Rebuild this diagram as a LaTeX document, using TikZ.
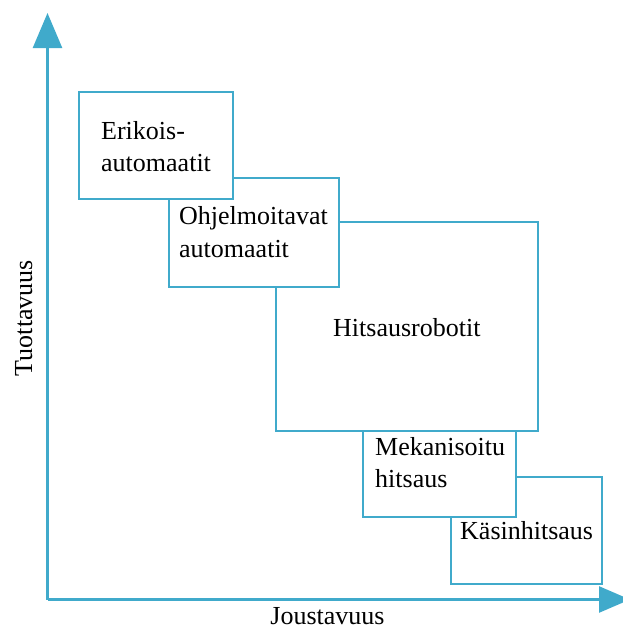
\documentclass[tikz,border=0pt]{standalone}
\usepackage{fontspec}
\setmainfont{Liberation Serif}
\usetikzlibrary{arrows.meta}
\definecolor{lineblue}{RGB}{64,170,203}
\tikzset{
  box/.style={draw=lineblue, line width=2.5pt, fill=white, rectangle, inner sep=0pt, outer sep=0pt, anchor=north west},
  lbl/.style={anchor=base west, inner sep=0pt, font=\fontsize{26}{31}\selectfont},
  axlbl/.style={inner sep=0pt, font=\fontsize{26}{31}\selectfont},
  axis/.style={draw=lineblue, line width=2.5pt}
}
\begin{document}
\begin{tikzpicture}[x=1pt,y=-1pt]
\useasboundingbox (0,0) rectangle (623,629);
% axes
\coordinate (o) at (47.5,599.5);
\coordinate (ytip) at (47.5,13);
\coordinate (xtip) at (630,599.5);
\draw[axis, -{Triangle[length=35pt,width=29pt]}, fill=lineblue] (o) -- (ytip);
\draw[axis, -{Triangle[length=31pt,width=26pt]}, fill=lineblue] (o) -- (xtip);
% boxes (drawn back to front)
\node[box, minimum width=151pt, minimum height=107pt] (b5) at (451,477) {};
\node[box, minimum width=153pt, minimum height=92pt] (b4) at (363,425) {};
\node[box, minimum width=262pt, minimum height=209pt] (b3) at (276,222) {};
\node[box, minimum width=170pt, minimum height=109pt] (b2) at (169,178) {};
\node[box, minimum width=154pt, minimum height=107pt] (b1) at (79,92) {};
% labels
\node[lbl] (t1a) at (101,139) {Erikois-};
\node[lbl] (t1b) at (101,171) {automaatit};
\node[lbl] (t2a) at (179,224) {Ohjelmoitavat};
\node[lbl] (t2b) at (179,257) {automaatit};
\node[lbl] (t3) at (333,336) {Hitsausrobotit};
\node[lbl] (t4a) at (375,455) {Mekanisoitu};
\node[lbl] (t4b) at (375,487) {hitsaus};
\node[lbl] (t5) at (460,539) {Käsinhitsaus};
\node[axlbl, anchor=base] (xl) at (327.5,624) {Joustavuus};
\node[axlbl, anchor=base, rotate=90] (yl) at (32,318) {Tuottavuus};
\end{tikzpicture}
\end{document}
